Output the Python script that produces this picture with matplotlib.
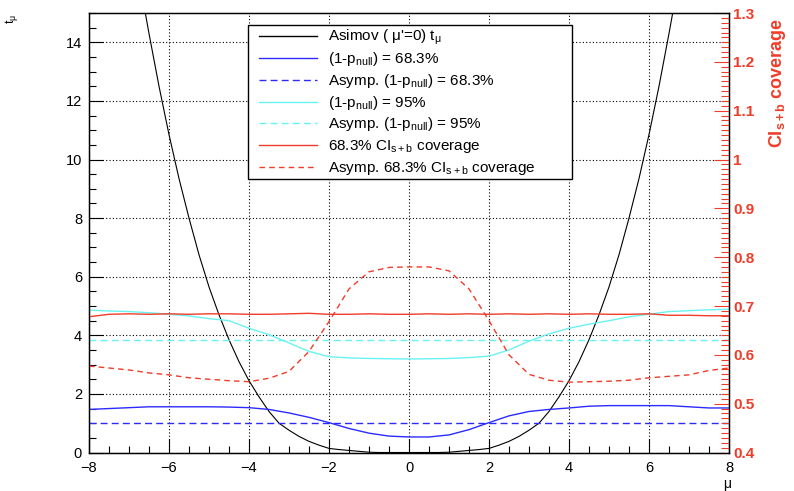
"""Asimov t_mu and CI coverage vs mu, ROOT-style layout."""
import matplotlib
matplotlib.use("Agg")
import matplotlib.pyplot as plt
import numpy as np
from matplotlib.lines import Line2D
from matplotlib.patches import Rectangle
from matplotlib.ticker import MultipleLocator, FormatStrFormatter

plt.rcParams.update({
    "font.family": "Liberation Sans",
    "mathtext.fontset": "custom",
    "mathtext.rm": "Liberation Sans",
    "mathtext.it": "Liberation Sans:italic",
    "mathtext.bf": "Liberation Sans:bold",
})

W, H = 794, 491

BLACK = "#000000"
BLUE = "#2b2bff"
CYAN = "#6af2f2"
RED = "#f03c28"

# x grids the curves were sampled on
mu_fine = np.linspace(-8, 8, 65)    # 0.25 step
mu = np.linspace(-8, 8, 33)         # 0.5 step

# Asimov (mu'=0) t_mu
asimov_t = [27.2, 24.8, 22.5, 20.3, 18.2, 16.2, 14.3, 12.5, 10.85, 9.35,
            8.0, 6.75, 5.65, 4.7, 3.85, 3.1, 2.45, 1.9, 1.4, 1.0,
            0.76, 0.55, 0.38, 0.25, 0.14, 0.10, 0.07, 0.04, 0.01, 0.0,
            0.0, 0.0, 0.0,
            0.0, 0.0, 0.0, 0.01, 0.04, 0.07, 0.10, 0.14, 0.25, 0.38,
            0.55, 0.76, 1.0, 1.4, 1.9, 2.45, 3.1, 3.85, 4.7, 5.65,
            6.75, 8.0, 9.35, 10.85, 12.5, 14.3, 16.2, 18.2, 20.3, 22.5,
            24.8, 27.2]

# (1-p_null) = 68.3% threshold
thr68 = [1.47, 1.50, 1.53, 1.56, 1.56, 1.56, 1.56, 1.55, 1.53, 1.47,
         1.35, 1.20, 1.02, 0.82, 0.66, 0.56, 0.53, 0.53, 0.60, 0.78,
         1.02, 1.25, 1.40, 1.47, 1.52, 1.58, 1.60, 1.60, 1.60, 1.60,
         1.56, 1.52, 1.52]
asym68 = [1.0] * 33

# (1-p_null) = 95% threshold
thr95 = [4.86, 4.83, 4.81, 4.77, 4.72, 4.66, 4.57, 4.50, 4.24, 4.02,
         3.74, 3.45, 3.27, 3.23, 3.21, 3.20, 3.19, 3.20, 3.21, 3.24,
         3.29, 3.50, 3.80, 4.05, 4.24, 4.38, 4.50, 4.63, 4.72, 4.81,
         4.84, 4.87, 4.89]
asym95 = [3.84] * 33

# CI_{s+b} coverage (right axis)
cov68 = [0.678, 0.683, 0.684, 0.683, 0.684, 0.683, 0.684, 0.684, 0.683,
         0.683, 0.684, 0.685, 0.683, 0.683, 0.684, 0.683, 0.683, 0.684,
         0.683, 0.684, 0.683, 0.684, 0.683, 0.684, 0.683, 0.684, 0.683,
         0.683, 0.684, 0.681, 0.681, 0.680, 0.680]
asym_cov68 = [0.577, 0.573, 0.569, 0.563, 0.559, 0.553, 0.550, 0.547, 0.545,
              0.552, 0.566, 0.607, 0.668, 0.735, 0.770, 0.779, 0.780, 0.780,
              0.772, 0.735, 0.670, 0.600, 0.560, 0.548, 0.544, 0.545, 0.546,
              0.548, 0.553, 0.556, 0.559, 0.568, 0.573]

fig = plt.figure(figsize=(W / 100, H / 100), dpi=100)
ax = fig.add_axes([89 / W, 38.5 / H, 640 / W, 439.5 / H])

ax.plot(mu_fine, asimov_t, color=BLACK, lw=0.8)
ax.plot(mu, thr68, color=BLUE, lw=1.0)
ax.plot(mu, asym68, color=BLUE, lw=1.0, dashes=(5, 3))
ax.plot(mu, thr95, color=CYAN, lw=1.0)
ax.plot(mu, asym95, color=CYAN, lw=1.0, dashes=(5, 3))

ax.set_xlim(-8, 8)
ax.set_ylim(0, 15)
ax.xaxis.set_major_locator(MultipleLocator(2))
ax.xaxis.set_minor_locator(MultipleLocator(0.5))
ax.yaxis.set_major_locator(MultipleLocator(2))
ax.yaxis.set_minor_locator(MultipleLocator(0.5))
ax.tick_params(which="both", direction="in", top=False, right=False,
               labelsize=10.5, width=0.8)
ax.tick_params(which="major", length=10)
ax.tick_params(which="minor", length=5)
ax.tick_params(axis="x", pad=6)
ax.tick_params(axis="y", pad=5)
ax.grid(True, which="major", color="black", linestyle=(0, (1, 2)), lw=0.8)
for s in ax.spines.values():
    s.set_linewidth(1.0)

ax2 = ax.twinx()
ax2.plot(mu, cov68, color=RED, lw=1.0)
ax2.plot(mu, asym_cov68, color=RED, lw=1.0, dashes=(4, 3))
ax2.set_ylim(0.4, 1.3)
ax2.yaxis.set_major_locator(MultipleLocator(0.1))
ax2.yaxis.set_minor_locator(MultipleLocator(0.01))
ax2.yaxis.set_major_formatter(FormatStrFormatter("%g"))
ax2.tick_params(which="both", direction="in", color=RED, labelcolor=RED,
                labelsize=11, pad=3, width=0.8)
ax2.tick_params(which="major", length=11)
ax2.tick_params(which="minor", length=6)
for lab in ax2.get_yticklabels():
    lab.set_fontweight("bold")

# axis titles, ROOT places them at the ends
fig.text(12 / W, 1 - 14 / H, r"t$_{\mathrm{μ}}$", rotation=90,
         ha="center", va="top", fontsize=9)
fig.text(727 / W, 1 - 484 / H, "μ", ha="center", va="center", fontsize=10)
fig.text(778 / W, 1 - 18 / H, r"CI$_{\mathbf{s+b}}$ coverage", rotation=90,
         ha="center", va="top", fontsize=13, fontweight="bold", color=RED)

# legend box
def fx(x):
    return x / W


def fy(y):
    return 1 - y / H


fig.add_artist(Rectangle((fx(248), fy(179)), (572 - 248) / W, (179 - 25) / H,
                         transform=fig.transFigure, facecolor="white",
                         edgecolor="black", lw=1.0, zorder=5))
entries = [
    (BLACK, None, r"Asimov ( μ'=0) t$_{\mathrm{μ}}$"),
    (BLUE, None, r"(1-p$_{\mathrm{null}}$) = 68.3%"),
    (BLUE, (5, 3), r"Asymp. (1-p$_{\mathrm{null}}$) = 68.3%"),
    (CYAN, None, r"(1-p$_{\mathrm{null}}$) = 95%"),
    (CYAN, (5, 3), r"Asymp. (1-p$_{\mathrm{null}}$) = 95%"),
    (RED, None, r"68.3% CI$_{\mathrm{s+b}}$ coverage"),
    (RED, (4, 3), r"Asymp. 68.3% CI$_{\mathrm{s+b}}$ coverage"),
]
rows = [36, 58, 79.5, 101.5, 123, 145, 167]
for (c, d, lab), y in zip(entries, rows):
    ln = Line2D([fx(259), fx(317)], [fy(y), fy(y)], transform=fig.transFigure,
                color=c, lw=1.0, zorder=6)
    if d is not None:
        ln.set_dashes(d)
    fig.add_artist(ln)
    fig.text(fx(328), fy(y + 5), lab, ha="left", va="baseline",
             fontsize=11, zorder=6)

fig.savefig("out.png", dpi=100)
